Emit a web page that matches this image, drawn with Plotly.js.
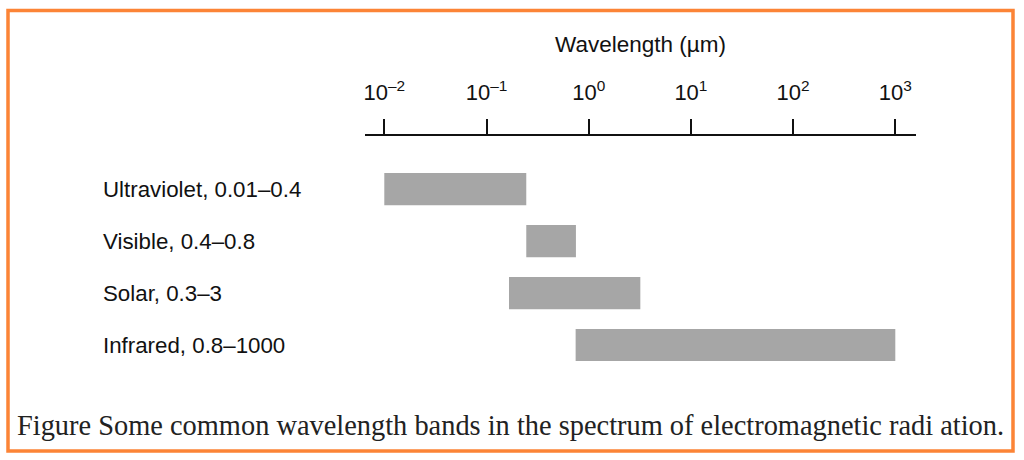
<!DOCTYPE html>
<html>
<head>
<meta charset="utf-8">
<script src="https://cdn.plot.ly/plotly-3.0.1.min.js"></script>
<style>html,body{margin:0;padding:0;background:#fff;}#chart{width:1024px;height:460px;}</style>
</head>
<body>
<div id="chart"></div>
<script>
// ---- data ----
var bandNames = ["Ultraviolet", "Visible", "Solar", "Infrared"];
var bandLabels = ["Ultraviolet, 0.01\u20130.4", "Visible, 0.4\u20130.8", "Solar, 0.3\u20133", "Infrared, 0.8\u20131000"];
// band extents as drawn in the figure (µm)
var bandStart = [0.01, 0.245, 0.166, 0.745];
var bandEnd   = [0.245, 0.75, 3.2, 1000];
var tickValues = [0.01, 0.1, 1, 10, 100, 1000];
var tickLabels = ["10<sup>\u20132</sup>", "10<sup>\u20131</sup>", "10<sup>0</sup>", "10<sup>1</sup>", "10<sup>2</sup>", "10<sup>3</sup>"];
var axisTitle = "Wavelength (\u00b5m)";
var caption = "Figure Some common wavelength bands in the spectrum of electromagnetic radi ation.";

// ---- layout geometry (pixels) ----
var W = 1024, H = 460;
var M = {l: 365, r: 108, t: 136, b: 80};
var PW = W - M.l - M.r, PH = H - M.t - M.b;
function px2x(p){ return (p - M.l) / PW; }
function px2y(p){ return (H - M.b - p) / PH; }

var sizes = bandEnd.map(function(e, i){ return e - bandStart[i]; });

var trace = {
  type: "bar",
  orientation: "h",
  y: bandNames,
  x: sizes,
  base: bandStart,
  width: 0.62,
  marker: {color: "#a6a6a6", line: {width: 0}},
  hoverinfo: "skip"
};

var annotations = bandNames.map(function(n, i){
  return {
    xref: "paper", yref: "y", x: px2x(101), y: n,
    xanchor: "left", yanchor: "middle", showarrow: false,
    text: bandLabels[i],
    font: {family: "Liberation Sans, Arial, sans-serif", size: 22.3, color: "#111"}
  };
});
annotations.push({
  xref: "paper", yref: "paper", x: px2x(15), y: px2y(425),
  xanchor: "left", yanchor: "middle", showarrow: false,
  text: caption,
  font: {family: "Liberation Serif, Times New Roman, serif", size: 28.4, color: "#222"}
});

var layout = {
  width: W, height: H,
  margin: M,
  paper_bgcolor: "#fff", plot_bgcolor: "#fff",
  showlegend: false,
  xaxis: {
    type: "log", side: "top",
    range: [-2 - (384.3 - M.l) / 102.2, 3 + (M.l + PW - 895.3) / 102.2],
    tickvals: tickValues, ticktext: tickLabels,
    ticks: "outside", ticklen: 15, tickwidth: 2, tickcolor: "#111",
    ticklabelstandoff: 10,
    showline: true, linewidth: 2, linecolor: "#111",
    showgrid: false, zeroline: false,
    tickfont: {family: "Liberation Sans, Arial, sans-serif", size: 22, color: "#111"},
    title: {text: axisTitle, standoff: 18, font: {family: "Liberation Sans, Arial, sans-serif", size: 22.5, color: "#111"}}
  },
  yaxis: {
    type: "category",
    range: [3 + (H - M.b - 345) / 51.93, -(189.2 - M.t) / 51.93],
    showticklabels: false, ticks: "", showline: false, showgrid: false, zeroline: false
  },
  annotations: annotations,
  shapes: [{
    type: "rect", xref: "paper", yref: "paper",
    x0: px2x(8), x1: px2x(1013), y0: px2y(451), y1: px2y(10.5),
    line: {color: "#fc8436", width: 3.5}, fillcolor: "rgba(0,0,0,0)"
  }]
};

Plotly.newPlot("chart", [trace], layout, {staticPlot: true, displayModeBar: false});
</script>
</body>
</html>
